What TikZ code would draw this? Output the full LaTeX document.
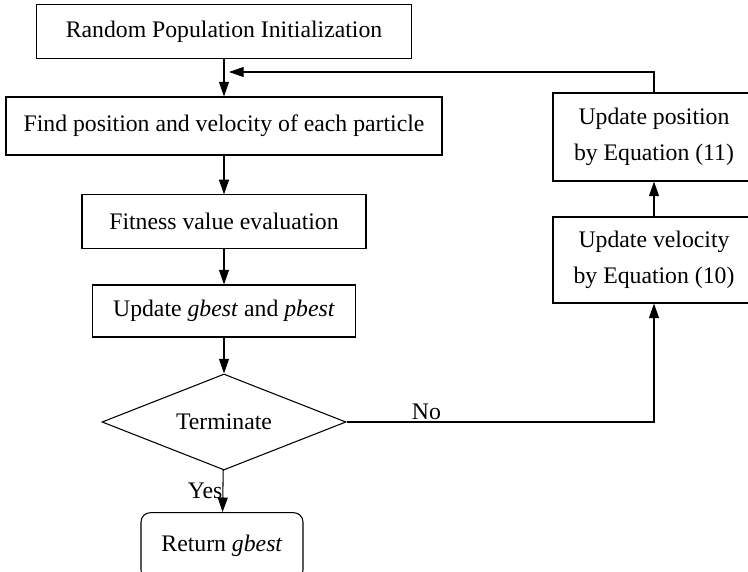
\documentclass[tikz,border=0pt]{standalone}
\usepackage{fontspec}
\setmainfont{Liberation Serif}
\usetikzlibrary{positioning, shapes, arrows.meta}

\begin{document}
\begin{tikzpicture}[x=0.75pt, y=-0.75pt, line width=0.8pt, >={Triangle[length=11pt,width=7.5pt]}]
		\tikzset{
		    pbox/.style= {rectangle, draw, inner sep=0pt, align=center, font=\fontsize{17.8}{27}\selectfont},
		    pdec/.style= {diamond, draw, inner sep=0pt, aspect=2.5, font=\fontsize{17.8}{27}\selectfont},
		    pend/.style= {pbox, rounded corners=7pt},
		    plab/.style= {inner sep=1pt, font=\fontsize{17.8}{27}\selectfont},
		}
		\useasboundingbox (0,0) rectangle (748,571);
		
		\node[pbox, minimum width=281pt, minimum height=40pt] (s1) at (224,31.5) {Random Population Initialization};
		\node[pbox, minimum width=327pt, minimum height=43.5pt] (s2) at (224,126) {Find position and velocity of each particle};
		\node[pbox, minimum width=213pt, minimum height=40pt] (s3) at (224,221.5) {Fitness value evaluation};
		\node[pbox, minimum width=197pt, minimum height=39pt] (s4) at (224,311) {Update \textit{gbest} and \textit{pbest}};
		\node[pdec, minimum width=183pt, minimum height=72pt] (s5) at (224,422) {Terminate};
		\node[pend, minimum width=121.5pt, minimum height=50pt] (s6) at (222,546) {Return \textit{gbest}};
		
		\node[pbox, minimum width=151.5pt, minimum height=64.5pt] (s7) at (654,260) {Update velocity\\by Equation (10)};
		\node[pbox, minimum width=151.5pt, minimum height=66pt] (s8) at (654,137) {Update position\\by Equation (11)};
		
		\coordinate (c1) at (229,72);
		
		\draw[->] (s1) -- (s2);
		\draw[->] (s2) -- (s3);
		\draw[->] (s3) -- (s4);
		\draw[->] (s4) -- (s5);
		\draw[->] (s5) -- node[plab, left, inner sep=0pt] {Yes} (s6);
		\draw[->] (s5.east) -| node[plab, pos=0.13, above] {No} (s7.south);
		\draw[->] (s7) -- (s8);
		\draw[->] (s8.north) |- (c1);
	\end{tikzpicture}
\end{document}
